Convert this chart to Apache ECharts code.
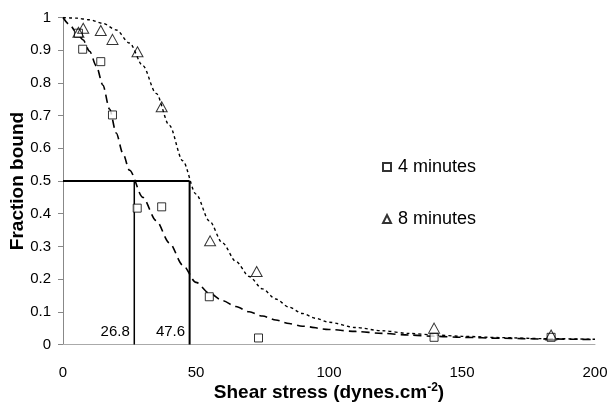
<!DOCTYPE html>
<html>
<head>
<meta charset="utf-8">
<script src="https://cdn.jsdelivr.net/npm/echarts@6/dist/echarts.min.js"></script>
<style>
  html, body { margin: 0; padding: 0; background: #fff; }
  #chart { width: 608px; height: 403px; }
</style>
</head>
<body>
<div id="chart"></div>
<script>
// 测量点 (shear stress, fraction bound)
const pts4min = [[5.8, 0.952], [7.4, 0.903], [14.2, 0.865], [18.6, 0.702], [27.9, 0.417], [37.1, 0.421], [55.0, 0.146], [73.5, 0.02], [139.5, 0.022], [183.5, 0.022]];
const pts8min = [[5.8, 0.955], [7.6, 0.967], [14.2, 0.96], [18.6, 0.933], [28.0, 0.895], [37.1, 0.727], [55.3, 0.317], [72.8, 0.223], [139.5, 0.05], [183.5, 0.029]];

// 拟合曲线
const fit4min = [[0, 1.0], [2.5, 0.978], [5, 0.955], [7.5, 0.932], [10, 0.897], [12.5, 0.852], [15, 0.793], [17.5, 0.72], [20, 0.647], [22.5, 0.585], [25, 0.533], [30, 0.45], [35, 0.379], [40, 0.311], [45, 0.243], [50, 0.19], [55, 0.157], [60, 0.134], [65, 0.116], [70, 0.1], [75, 0.087], [80, 0.075], [85, 0.064], [90, 0.056], [100, 0.046], [110, 0.04], [120, 0.034], [130, 0.029], [140, 0.025], [150, 0.022], [165, 0.019], [180, 0.017], [200, 0.015]];
const fit8min = [[0, 1.0], [5, 0.998], [10, 0.993], [15, 0.982], [20, 0.962], [25, 0.922], [30, 0.853], [35, 0.768], [40, 0.67], [45, 0.562], [50, 0.46], [55, 0.378], [60, 0.31], [65, 0.254], [70, 0.208], [75, 0.17], [80, 0.139], [85, 0.114], [90, 0.095], [95, 0.08], [100, 0.068], [110, 0.052], [120, 0.042], [130, 0.034], [140, 0.029], [150, 0.025], [165, 0.021], [180, 0.018], [200, 0.016]];

// 50% 截点
const halfLevel = 0.5;
const cutX = [26.8, 47.6];
const cutLabels = ['26.8', '47.6'];

const xTicks = [0, 50, 100, 150, 200];

const FONT = '"Liberation Sans", Arial, sans-serif';

const chart = echarts.init(document.getElementById('chart'), null, { renderer: 'canvas' });

const option = {
  animation: false,
  textStyle: { fontFamily: FONT },
  grid: { left: 63, right: 13, top: 17.5, bottom: 58.5, containLabel: false, outerBoundsMode: 'none' },
  legend: {
    data: ['4 minutes', '8 minutes'],
    orient: 'vertical',
    left: 377,
    top: 153,
    itemGap: 34,
    itemWidth: 8,
    itemHeight: 8,
    textStyle: { fontFamily: FONT, fontSize: 18, color: '#000', padding: [0, 0, 0, 2] }
  },
  xAxis: {
    type: 'value',
    min: xTicks[0],
    max: xTicks[xTicks.length - 1],
    interval: 50,
    splitLine: { show: false },
    axisTick: { show: false },
    axisLine: { show: true, onZero: false, lineStyle: { color: '#aaa', width: 1 } },
    axisLabel: { fontFamily: FONT, fontSize: 15, color: '#000', margin: 21 },
    name: '{a|Shear stress (dynes.cm}{s|-2}{a|)}',
    nameLocation: 'middle',
    nameGap: 37,
    nameMoveOverlap: false,
    nameTextStyle: {
      rich: {
        a: { fontFamily: FONT, fontSize: 19, fontWeight: 'bold', color: '#000' },
        s: { fontFamily: FONT, fontSize: 12, fontWeight: 'bold', color: '#000', verticalAlign: 'top', padding: [0, 0, 10, 0] }
      }
    }
  },
  yAxis: {
    type: 'value',
    min: 0,
    max: 1,
    interval: 0.1,
    splitLine: { show: false },
    axisTick: { show: true, length: 5, lineStyle: { color: '#888' } },
    axisLine: { show: true, lineStyle: { color: '#888', width: 1 } },
    axisLabel: { fontFamily: FONT, fontSize: 15, color: '#000', margin: 12,
      formatter: v => String(Math.round(v * 10) / 10) },
    name: 'Fraction bound',
    nameLocation: 'middle',
    nameGap: 36,
    nameMoveOverlap: false,
    nameTextStyle: { fontFamily: FONT, fontSize: 19, fontWeight: 'bold', color: '#000' }
  },
  series: [
    {
      name: 'fit 4', type: 'line', data: fit4min, smooth: 0.3, smoothMonotone: 'x',
      symbol: 'none', z: 2,
      lineStyle: { color: '#000', width: 1.6, type: [8, 5] }
    },
    {
      name: 'fit 8', type: 'line', data: fit8min, smooth: 0.3, smoothMonotone: 'x',
      symbol: 'none', z: 2,
      lineStyle: { color: '#000', width: 1.4, type: [3, 3] }
    },
    {
      name: 'half', type: 'line', symbol: 'none', z: 3,
      data: [[0, halfLevel], [cutX[1], halfLevel]],
      lineStyle: { color: '#000', width: 2 }
    },
    {
      name: 'cut a', type: 'line', symbol: 'none', z: 3,
      data: [[cutX[0], 0], [cutX[0], halfLevel]],
      lineStyle: { color: '#000', width: 1.5 }
    },
    {
      name: 'cut b', type: 'line', symbol: 'none', z: 3,
      data: [[cutX[1], 0], [cutX[1], halfLevel]],
      lineStyle: { color: '#000', width: 2 }
    },
    {
      name: 'cut labels', type: 'scatter', symbolSize: 1, z: 4, silent: true,
      itemStyle: { color: 'rgba(0,0,0,0)' },
      data: cutX.map((x, i) => ({ value: [x, 0.038], label: { formatter: cutLabels[i] } })),
      label: { show: true, position: 'left', distance: 4, fontFamily: FONT, fontSize: 15, color: '#000', opacity: 1 }
    },
    {
      name: '4 minutes', type: 'scatter', data: pts4min, symbol: 'rect', symbolSize: 8, z: 5,
      itemStyle: { color: '#fff', borderColor: '#000', borderWidth: 1 }
    },
    {
      name: '8 minutes', type: 'scatter', data: pts8min, symbol: 'triangle', symbolSize: [11, 10], z: 6,
      itemStyle: { color: 'rgba(255,255,255,0)', borderColor: '#000', borderWidth: 1 }
    }
  ]
};

chart.setOption(option);
</script>
</body>
</html>
